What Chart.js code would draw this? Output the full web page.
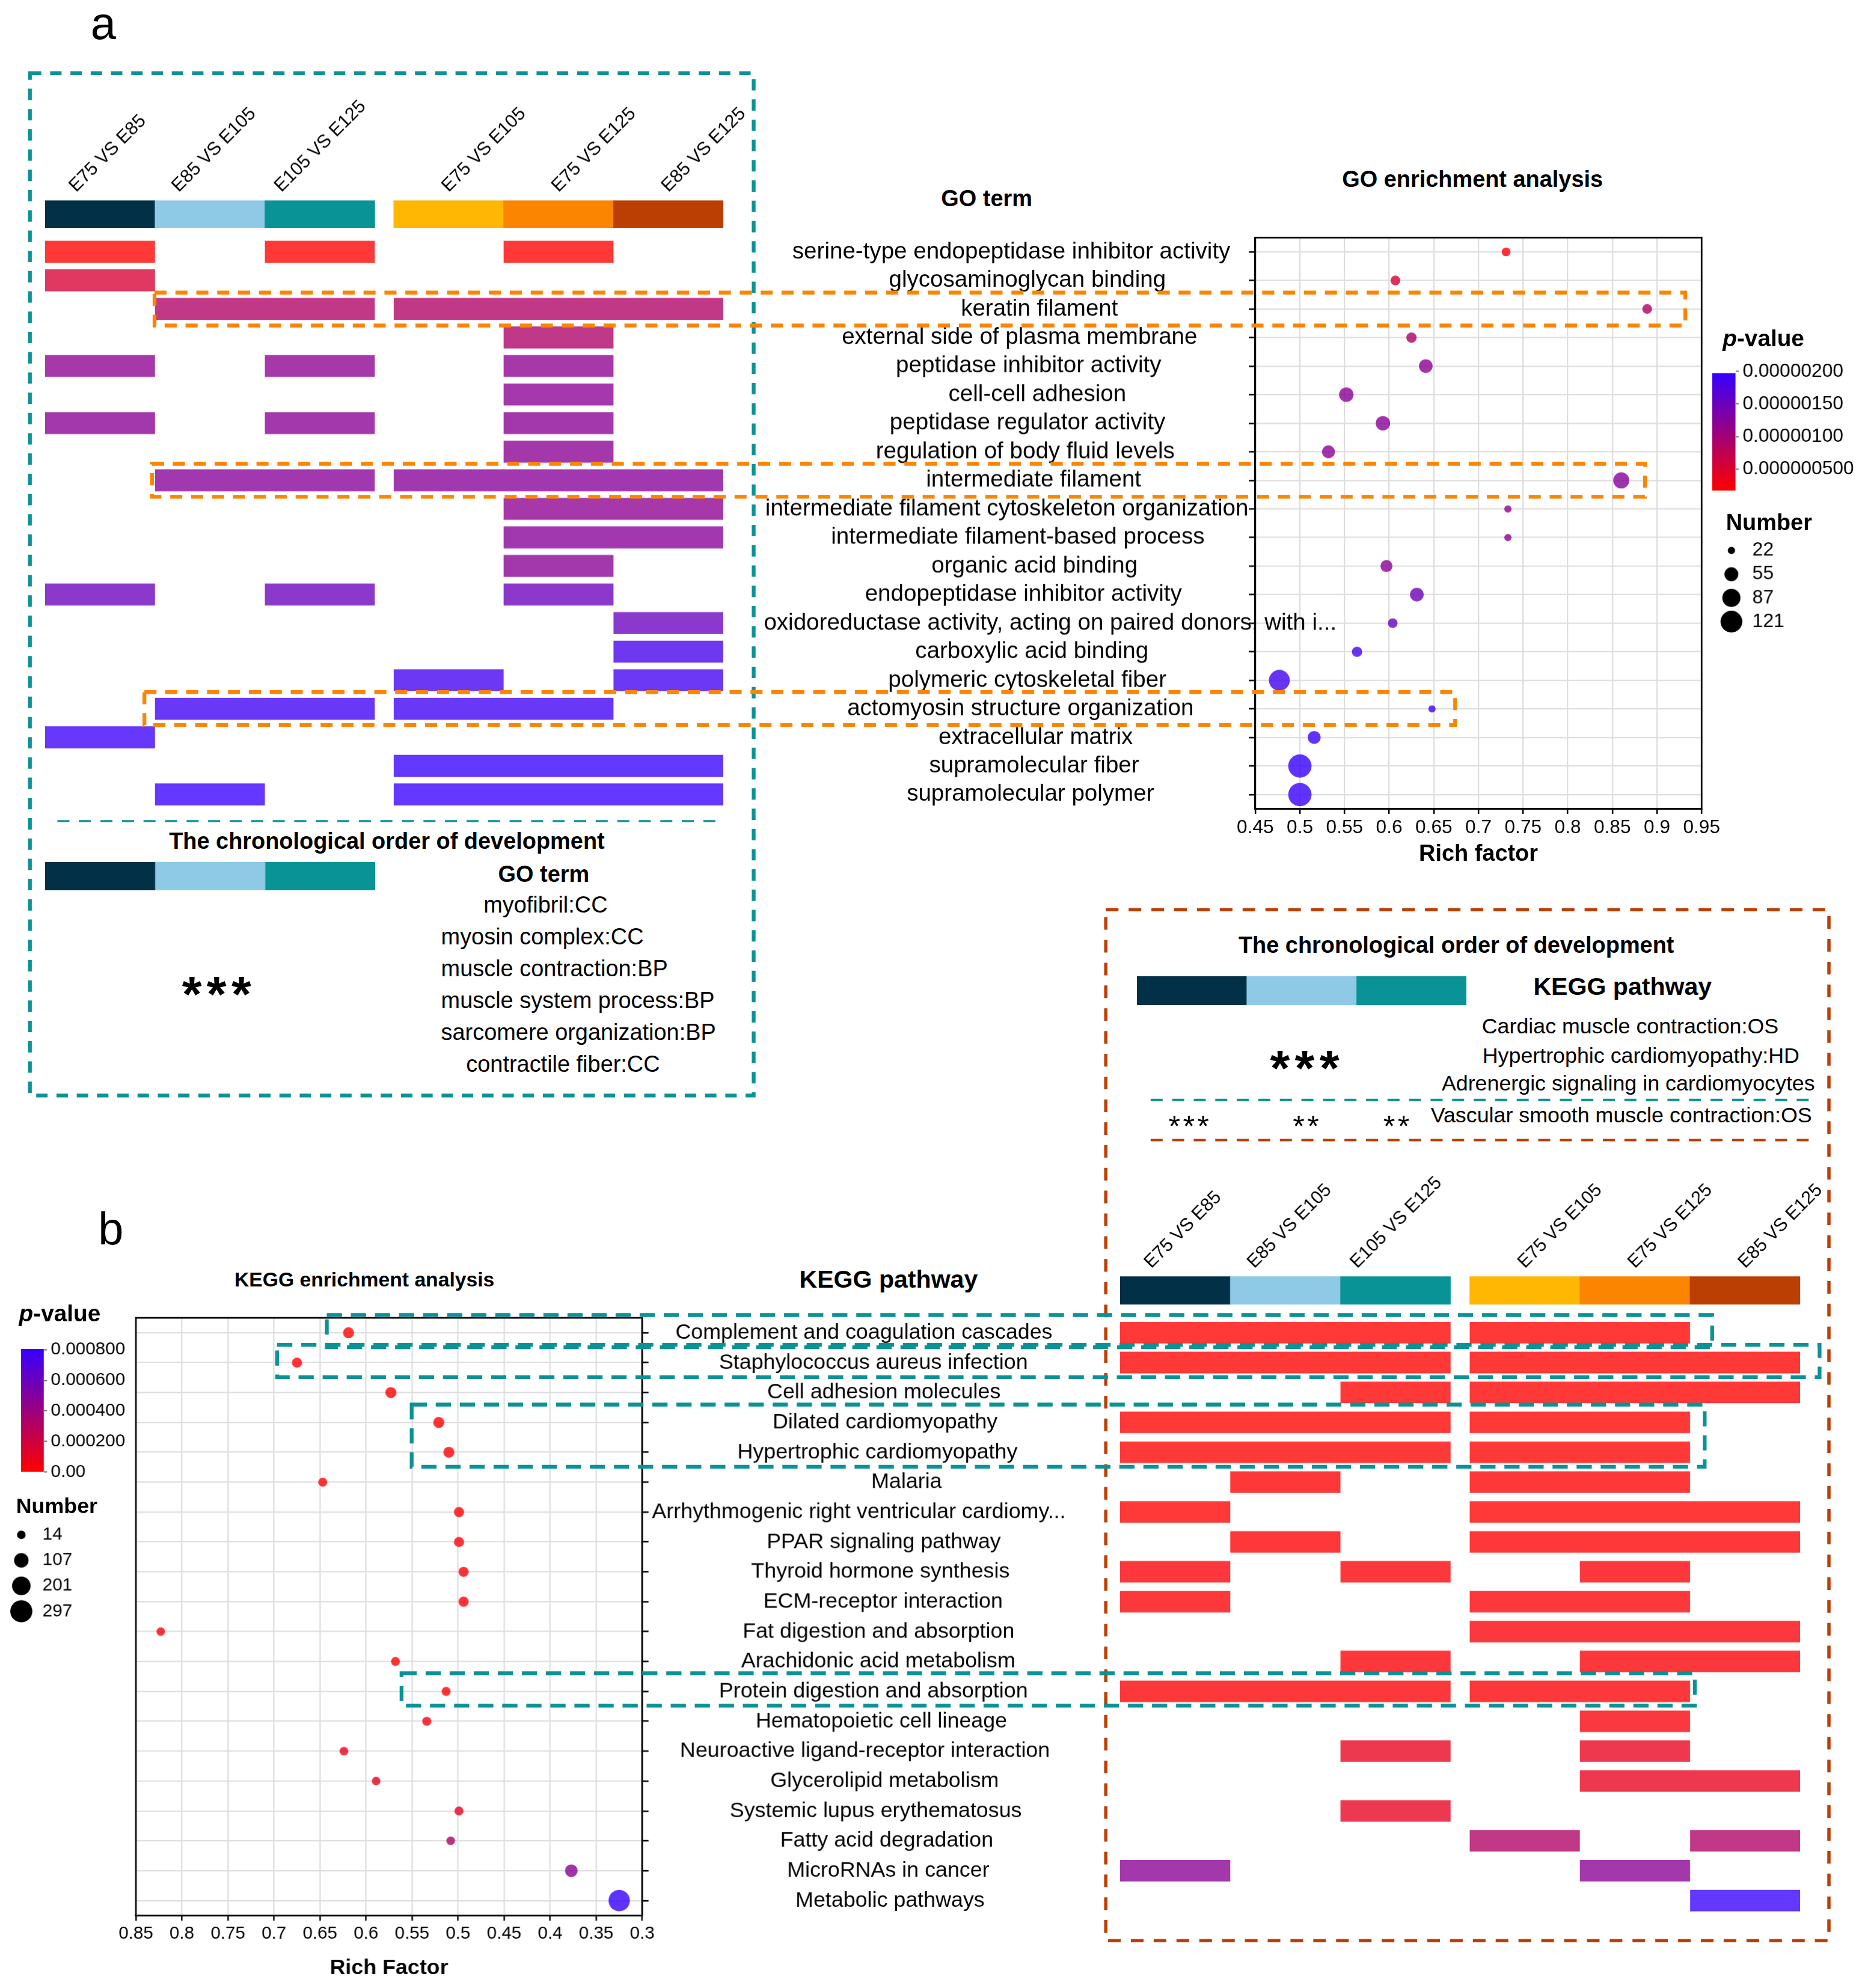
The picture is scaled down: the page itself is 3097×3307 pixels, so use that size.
<!DOCTYPE html>
<html>
<head>
<meta charset="utf-8">
<title>GO / KEGG enrichment</title>
<script src="https://cdn.jsdelivr.net/npm/chart.js@4.4.1/dist/chart.umd.min.js"></script>
<style>
  html, body { margin: 0; padding: 0; background: #fff; }
  #page { position: relative; width: 3097px; height: 3307px; overflow: hidden;
          font-family: "Liberation Sans", Arial, Helvetica, sans-serif; color: #000; }
  .box { position: absolute; }
  .t { position: absolute; white-space: nowrap; line-height: 1; }
  #overlay { position: absolute; left: 0; top: 0; }
</style>
</head>
<body>
<div id="page"></div>
<script>
// ---------- data ----------
const comparisons = ['E75 VS E85', 'E85 VS E105', 'E105 VS E125', 'E75 VS E105', 'E75 VS E125', 'E85 VS E125'];
const comparisonGroup = [0, 0, 0, 1, 1, 1];

const goTerms = [
  'serine-type endopeptidase inhibitor activity',
  'glycosaminoglycan binding',
  'keratin filament',
  'external side of plasma membrane',
  'peptidase inhibitor activity',
  'cell-cell adhesion',
  'peptidase regulator activity',
  'regulation of body fluid levels',
  'intermediate filament',
  'intermediate filament cytoskeleton organization',
  'intermediate filament-based process',
  'organic acid binding',
  'endopeptidase inhibitor activity',
  'oxidoreductase activity, acting on paired donors, with i...',
  'carboxylic acid binding',
  'polymeric cytoskeletal fiber',
  'actomyosin structure organization',
  'extracellular matrix',
  'supramolecular fiber',
  'supramolecular polymer'
];
const goRichFactor = [0.731, 0.607, 0.889, 0.625, 0.641, 0.552, 0.593, 0.532, 0.860, 0.733,
                      0.733, 0.597, 0.631, 0.604, 0.564, 0.477, 0.648, 0.516, 0.500, 0.500];
const goNumber = [28, 32, 32, 35, 54, 59, 59, 49, 71, 22, 22, 44, 54, 32, 35, 113, 22, 49, 138, 138];
const goPvalue = [1.7e-7, 5.3e-7, 8.8e-7, 9.0e-7, 1.20e-6, 1.22e-6, 1.23e-6, 1.21e-6, 1.25e-6, 1.19e-6,
                  1.24e-6, 1.23e-6, 1.49e-6, 1.52e-6, 1.84e-6, 1.86e-6, 1.90e-6, 1.94e-6, 1.97e-6, 1.96e-6];
// comparisons where each term is enriched, as runs of comparison indices [from, to]
const goHits = [
  [[0, 0], [2, 2], [4, 4]], [[0, 0]], [[1, 2], [3, 5]], [[4, 4]], [[0, 0], [2, 2], [4, 4]],
  [[4, 4]], [[0, 0], [2, 2], [4, 4]], [[4, 4]], [[1, 2], [3, 5]], [[4, 5]],
  [[4, 5]], [[4, 4]], [[0, 0], [2, 2], [4, 4]], [[5, 5]], [[5, 5]],
  [[3, 3], [5, 5]], [[1, 2], [3, 4]], [[0, 0]], [[3, 5]], [[1, 1], [3, 5]]
];
const goPTicks = [5e-7, 1e-6, 1.5e-6, 2e-6];
const goPTickLabels = ['0.000000500', '0.00000100', '0.00000150', '0.00000200'];
const goSizeBreaks = [22, 55, 87, 121];
const goMuscleTerms = ['myofibril:CC', 'myosin complex:CC', 'muscle contraction:BP',
                       'muscle system process:BP', 'sarcomere organization:BP', 'contractile fiber:CC'];

const keggTerms = [
  'Complement and coagulation cascades',
  'Staphylococcus aureus infection',
  'Cell adhesion molecules',
  'Dilated cardiomyopathy',
  'Hypertrophic cardiomyopathy',
  'Malaria',
  'Arrhythmogenic right ventricular cardiomy...',
  'PPAR signaling pathway',
  'Thyroid hormone synthesis',
  'ECM-receptor interaction',
  'Fat digestion and absorption',
  'Arachidonic acid metabolism',
  'Protein digestion and absorption',
  'Hematopoietic cell lineage',
  'Neuroactive ligand-receptor interaction',
  'Glycerolipid metabolism',
  'Systemic lupus erythematosus',
  'Fatty acid degradation',
  'MicroRNAs in cancer',
  'Metabolic pathways'
];
const keggRichFactor = [0.619, 0.675, 0.573, 0.521, 0.510, 0.647, 0.499, 0.499, 0.494, 0.494,
                        0.823, 0.568, 0.513, 0.534, 0.624, 0.589, 0.499, 0.508, 0.377, 0.325];
const keggNumber = [48, 35, 48, 48, 48, 20, 35, 35, 35, 35, 14, 20, 20, 20, 16, 16, 20, 16, 75, 280];
const keggPvalue = [1.2e-9, 3.5e-10, 2.1e-8, 4.6e-9, 8.0e-9, 3.1e-6, 5.4e-7, 2.2e-6, 1.5e-5, 9.6e-6,
                    2.4e-5, 1.8e-5, 6.7e-6, 3.2e-5, 8.9e-5, 9.3e-5, 9.8e-5, 3.2e-4, 4.75e-4, 8.05e-4];
const keggHits = [
  [[0, 2], [3, 4]], [[0, 2], [3, 5]], [[2, 2], [3, 5]], [[0, 2], [3, 4]], [[0, 2], [3, 4]],
  [[1, 1], [3, 4]], [[0, 0], [3, 5]], [[1, 1], [3, 5]], [[0, 0], [2, 2], [4, 4]], [[0, 0], [3, 4]],
  [[3, 5]], [[2, 2], [4, 5]], [[0, 2], [3, 4]], [[4, 4]], [[2, 2], [4, 4]],
  [[4, 5]], [[2, 2]], [[3, 3], [5, 5]], [[0, 0], [4, 4]], [[5, 5]]
];
const keggPTicks = [0, 2e-4, 4e-4, 6e-4, 8e-4];
const keggPTickLabels = ['0.00', '0.000200', '0.000400', '0.000600', '0.000800'];
const keggSizeBreaks = [14, 107, 201, 297];
const keggMusclePaths = ['Cardiac muscle contraction:OS', 'Hypertrophic cardiomyopathy:HD',
                         'Adrenergic signaling in cardiomyocytes'];
const keggVascular = 'Vascular smooth muscle contraction:OS';

const stageColors = ['#023047', '#8ECAE6', '#0A9396', '#FFB703', '#FB8500', '#BB3E03'];

// ---------- page helpers ----------
const S = 3097 / 1470;              // layout measured on a 1470px wide copy
const FONT = '"Liberation Sans", Arial, Helvetica, sans-serif';
const GAP = 15 / 87;                // gap between the two comparison groups
const colStart = [0, 1, 2, 3 + GAP, 4 + GAP, 5 + GAP];
const page = document.getElementById('page');

Chart.defaults.font.family = FONT;
Chart.defaults.color = '#000';
Chart.defaults.animation = false;
Chart.defaults.responsive = true;
Chart.defaults.maintainAspectRatio = false;
Chart.defaults.events = [];
Chart.defaults.layout.autoPadding = false;
Chart.defaults.plugins.legend.display = false;
Chart.defaults.plugins.tooltip.enabled = false;

function box(x, y, w, h) {
  const d = document.createElement('div');
  d.className = 'box';
  d.style.left = x * S + 'px';
  d.style.top = y * S + 'px';
  d.style.width = w * S + 'px';
  d.style.height = h * S + 'px';
  const c = document.createElement('canvas');
  d.appendChild(c);
  page.appendChild(d);
  return c;
}

function txt(s, x, y, o = {}) {
  const d = document.createElement('div');
  d.className = 't';
  if (o.html) d.innerHTML = s; else d.textContent = s;
  d.style.fontSize = (o.size || 17) * S + 'px';
  if (o.bold) d.style.fontWeight = 'bold';
  if (o.spacing) d.style.letterSpacing = o.spacing * S + 'px';
  d.style.left = x * S + 'px';
  d.style.top = y * S + 'px';
  const ax = o.align === 'center' ? -50 : o.align === 'right' ? -100 : 0;
  d.style.transform = `translate(${ax}%, ${o.baseline ? -84.65 : -54.65}%)`;
  page.appendChild(d);
}

// red -> blue ramp used by both p-value scales
function pColor(p, pmin, pmax, a) {
  const t = Math.max(0, Math.min(1, (p - pmin) / (pmax - pmin)));
  return `rgba(${Math.round(255 - 200 * t)},0,${Math.round(255 * t)},${a})`;
}

// point radius (in 1470-wide px) from gene count, area-linear between two legend breaks
function sizeScale(breaks, rMin, rMax) {
  const lo = breaks[0], hi = breaks[breaks.length - 1];
  return n => Math.sqrt(Math.max(rMin * rMin * 0.3, rMin * rMin + (n - lo) / (hi - lo) * (rMax * rMax - rMin * rMin)));
}
const goSize = sizeScale(goSizeBreaks, 2.85, 8.55);
const keggSize = sizeScale(keggSizeBreaks, 3.35, 8.65);

// fixed axis width, and no extra room asked for the end labels
const fixWidth = w => s => { s.width = w * S; s.paddingTop = 0; s.paddingBottom = 0; };

// ---------- plugins ----------
const frame = {
  id: 'frame',
  afterDraw(chart, args, o) {
    if (!o.on) return;
    const { ctx, chartArea: c } = chart;
    ctx.save();
    ctx.strokeStyle = '#000';
    ctx.lineWidth = 1.3 * S;
    ctx.strokeRect(c.left, c.top, c.right - c.left, c.bottom - c.top);
    ctx.restore();
  }
};

const rowLabels = {
  id: 'rowLabels',
  afterDraw(chart, args, o) {
    if (!o.labels) return;
    const { ctx } = chart, y = chart.scales.y;
    ctx.save();
    ctx.font = `${o.size}px ${FONT}`;
    ctx.fillStyle = '#000';
    ctx.textAlign = 'left';
    ctx.textBaseline = 'middle';
    o.labels.forEach((s, i) => {
      const w = ctx.measureText(s).width;
      ctx.fillText(s, Math.max(o.minLeft, o.anchor - o.hjust * w), y.getPixelForValue(i));
    });
    ctx.restore();
  }
};

const colLabels = {
  id: 'colLabels',
  afterDraw(chart, args, o) {
    if (!o.labels) return;
    const { ctx, chartArea } = chart, x = chart.scales.x;
    ctx.save();
    ctx.font = `${o.size}px ${FONT}`;
    ctx.fillStyle = '#000';
    ctx.textAlign = 'left';
    ctx.textBaseline = 'alphabetic';
    o.labels.forEach((s, i) => {
      const x0 = x.getPixelForValue(o.starts[i]), x1 = x.getPixelForValue(o.starts[i] + 1);
      const w = ctx.measureText(s).width;
      const sx = o.groups[i] === 0 ? x1 - o.inset - w * Math.SQRT1_2 : (x0 + x1) / 2;
      ctx.save();
      ctx.translate(sx, chartArea.top - o.lift);
      ctx.rotate(-Math.PI / 4);
      ctx.fillText(s, 0, 0);
      ctx.restore();
    });
    ctx.restore();
  }
};
Chart.register(frame, rowLabels, colLabels);

// ---------- chart builders ----------
function dotChart(el, o) {
  const pmin = Math.min(...o.p), pmax = Math.max(...o.p);
  return new Chart(el, {
    type: 'bubble',
    data: {
      datasets: [{
        data: o.terms.map((t, i) => ({ x: o.rich[i], y: t, n: o.count[i], p: o.p[i] })),
        backgroundColor: c => c.raw ? pColor(c.raw.p, pmin, pmax, 0.8) : 'red',
        radius: c => c.raw ? o.size(c.raw.n) * S : 0,
        hoverRadius: 0,
        borderWidth: 0
      }]
    },
    options: {
      layout: { padding: o.pad },
      scales: {
        x: {
          type: 'linear', min: o.min, max: o.max, reverse: !!o.reverse,
          ticks: { stepSize: 0.05, autoSkip: false, maxRotation: 0, padding: 2 * S,
                   font: { size: o.tickSize * S }, callback: v => String(+v.toFixed(2)) },
          grid: { color: '#dedede', lineWidth: 1.1 * S, tickColor: '#000', tickWidth: 1.2 * S, tickLength: 4 * S },
          border: { color: '#000', width: 1.3 * S },
          title: { display: true, text: o.title, font: { size: o.titleSize * S, weight: 'bold' },
                   padding: { top: 0, bottom: o.titlePad * S } },
          afterFit: s => { s.height = o.xHeight * S; }
        },
        y: {
          type: 'category', labels: o.terms, offset: true, position: o.yPos,
          ticks: { display: false },
          grid: { offset: false, color: '#dedede', lineWidth: 1.1 * S, tickColor: '#000', tickWidth: 1.2 * S, tickLength: 5 * S },
          border: { color: '#000', width: 1.3 * S },
          afterFit: fixWidth(o.yWidth)
        }
      },
      plugins: {
        frame: { on: true },
        rowLabels: { labels: o.terms, size: o.labelSize * S, anchor: o.anchor * S, hjust: o.hjust, minLeft: o.minLeft * S }
      }
    }
  });
}

function heatChart(el, terms, hits, p, thick) {
  const pmin = Math.min(...p), pmax = Math.max(...p);
  const bars = [];
  hits.forEach((runs, i) => runs.forEach(([a, b]) => {
    bars.push({ y: terms[i], x: [colStart[a], colStart[b] + 1], p: p[i] });
  }));
  return new Chart(el, {
    type: 'bar',
    data: {
      labels: terms,
      datasets: [{
        data: bars,
        backgroundColor: c => c.raw ? pColor(c.raw.p, pmin, pmax, 0.78) : '#f33',
        borderWidth: 0, barPercentage: thick, categoryPercentage: 1, grouped: false
      }]
    },
    options: {
      indexAxis: 'y',
      scales: {
        x: { type: 'linear', min: 0, max: colStart[5] + 1, display: false },
        y: { type: 'category', display: false }
      }
    }
  });
}

// stage colour key; with labels it becomes the column header of a heat map
function keyChart(el, n, pad, withLabels) {
  const starts = colStart.slice(0, n);
  return new Chart(el, {
    type: 'bar',
    data: {
      labels: ['k'],
      datasets: [{
        data: starts.map(s => ({ y: 'k', x: [s, s + 1] })),
        backgroundColor: stageColors.slice(0, n),
        borderWidth: 0, barPercentage: 1, categoryPercentage: 1, grouped: false
      }]
    },
    options: {
      indexAxis: 'y',
      layout: { padding: pad },
      scales: {
        x: { type: 'linear', min: 0, max: starts[n - 1] + 1, display: false },
        y: { type: 'category', display: false }
      },
      plugins: {
        colLabels: withLabels ? { labels: comparisons, groups: comparisonGroup, starts: colStart,
                                  size: 14.5 * S, inset: 6.5 * S, lift: 6 * S } : {}
      }
    }
  });
}

function colorbarChart(el, p, ticks, tickLabels, fontSize, axisW) {
  const pmin = Math.min(...p), pmax = Math.max(...p);
  return new Chart(el, {
    type: 'bar',
    data: {
      labels: ['c'],
      datasets: [{
        data: [[pmin, pmax]],
        backgroundColor: c => {
          const ch = c.chart;
          if (!ch.chartArea) return 'red';
          const ys = ch.scales.y;
          const g = ch.ctx.createLinearGradient(0, ys.getPixelForValue(pmin), 0, ys.getPixelForValue(pmax));
          g.addColorStop(0, pColor(pmin, pmin, pmax, 1));
          g.addColorStop(1, pColor(pmax, pmin, pmax, 1));
          return g;
        },
        borderWidth: 0, barPercentage: 1, categoryPercentage: 1
      }]
    },
    options: {
      layout: { padding: { top: 10 * S, bottom: 10 * S } },
      scales: {
        x: { display: false },
        y: {
          position: 'right', min: pmin, max: pmax,
          afterBuildTicks: s => { s.ticks = ticks.map(v => ({ value: v })); },
          ticks: { callback: (v, i) => tickLabels[i], font: { size: fontSize * S }, padding: 3 * S, autoSkip: false },
          grid: { drawOnChartArea: false, tickLength: 2.5 * S, tickColor: '#777', tickWidth: 1 * S },
          border: { display: false },
          afterFit: fixWidth(axisW)
        }
      }
    }
  });
}

function sizeLegend(el, breaks, size, fontSize, labelPad, axisW) {
  return new Chart(el, {
    type: 'bubble',
    data: {
      datasets: [{
        data: breaks.map(b => ({ x: 0, y: String(b), n: b })),
        backgroundColor: '#000',
        radius: c => c.raw ? size(c.raw.n) * S : 0,
        hoverRadius: 0, borderWidth: 0, clip: false
      }]
    },
    options: {
      scales: {
        x: { type: 'linear', min: -1, max: 1, display: false },
        y: {
          type: 'category', labels: breaks.map(String), offset: true, position: 'right',
          grid: { display: false, drawTicks: false }, border: { display: false },
          ticks: { crossAlign: 'near', padding: labelPad * S, autoSkip: false, font: { size: fontSize * S } },
          afterFit: fixWidth(axisW)
        }
      }
    }
  });
}

// ---------- panel a : GO ----------
const goDotTop = 180;
const goDot = dotChart(box(590, goDotTop, 770, 510), {
  terms: goTerms, rich: goRichFactor, count: goNumber, p: goPvalue, size: goSize,
  min: 0.45, max: 0.95, yPos: 'left', yWidth: 401, xHeight: 51.7,
  pad: { top: 7.7 * S, right: 16 * S, left: 0, bottom: 0 },
  tickSize: 15, title: 'Rich factor', titleSize: 18, titlePad: 5,
  labelSize: 18.3, anchor: 833 - 590, hjust: 0.6, minLeft: 603 - 590
});
const ga = goDot.chartArea;
heatChart(box(35.5, goDotTop + ga.top / S, 535.5, (ga.bottom - ga.top) / S), goTerms, goHits, goPvalue, 0.77);
keyChart(box(35.5, 70, 564.5, 110), 6, { top: 88 * S, right: 29 * S }, true);
keyChart(box(35.5, 680.7, 260.5, 22.5), 3, 0, false);
colorbarChart(box(1351.7, 285, 120, 112.5), goPvalue, goPTicks, goPTickLabels, 15, 101.7);
sizeLegend(box(1352, 425.2, 90, 74.4), goSizeBreaks, goSize, 15, 1.5, 60);

// ---------- panel b : KEGG ----------
const keggDotTop = 1030;
const keggDot = dotChart(box(0, keggDotTop, 850, 540), {
  terms: keggTerms, rich: keggRichFactor, count: keggNumber, p: keggPvalue, size: keggSize,
  min: 0.3, max: 0.85, reverse: true, yPos: 'right', yWidth: 850 - 506.7, xHeight: 58,
  pad: { top: 10.5 * S, left: 107.2 * S, right: 0, bottom: 0 },
  tickSize: 14, title: 'Rich Factor', titleSize: 17, titlePad: 6,
  labelSize: 17, anchor: 723, hjust: 0.639, minLeft: 0
});
const ka = keggDot.chartArea;
heatChart(box(884.5, keggDotTop + ka.top / S, 536.5, (ka.bottom - ka.top) / S), keggTerms, keggHits, keggPvalue, 0.72);
keyChart(box(884.5, 915, 566.5, 115), 6, { top: 92.7 * S, right: 30 * S }, true);
keyChart(box(897.5, 770.8, 260.2, 22.6), 3, 0, false);
colorbarChart(box(16.7, 1055, 100, 117), keggPvalue, keggPTicks, keggPTickLabels, 14, 82.1);
sizeLegend(box(4.7, 1202, 74, 80), keggSizeBreaks, keggSize, 14, 4.6, 50);

// ---------- text ----------
txt('a', 71.5, 30.8, { size: 36, baseline: true });
txt('b', 77.5, 982.4, { size: 36, baseline: true });

txt('GO term', 779, 158, { size: 18, bold: true, align: 'center' });
txt('GO enrichment analysis', 1162.5, 143, { size: 18, bold: true, align: 'center' });
txt('<i>p</i>-value', 1360, 268, { size: 18.4, bold: true, html: true });
txt('Number', 1362.6, 414, { size: 18, bold: true });
txt('The chronological order of development', 305.4, 665.3, { size: 18, bold: true, align: 'center' });
txt('GO term', 429.3, 691.4, { size: 18, bold: true, align: 'center' });
const goMuscleX = [381.7, 348.2, 348.2, 348.2, 348.2, 368];
goMuscleTerms.forEach((s, i) => txt(s, goMuscleX[i], 715.9 + i * 25.14, { size: 18 }));
txt('***', 173, 799, { size: 40, bold: true, align: 'center', baseline: true, spacing: 4 });

txt('KEGG enrichment analysis', 287.7, 1010.8, { size: 16, bold: true, align: 'center' });
txt('KEGG pathway', 701.5, 1010.8, { size: 19.5, bold: true, align: 'center' });
txt('<i>p</i>-value', 15, 1038, { size: 18.4, bold: true, html: true });
txt('Number', 12.7, 1190.5, { size: 17, bold: true });
txt('The chronological order of development', 1149.7, 747.5, { size: 18, bold: true, align: 'center' });
txt('KEGG pathway', 1281, 780, { size: 19.5, bold: true, align: 'center' });
const keggMuscleX = [1287, 1295.5, 1285.5];
const keggMuscleY = [811.6, 835, 856.7];
keggMusclePaths.forEach((s, i) => txt(s, keggMuscleX[i], keggMuscleY[i], { size: 17, align: 'center' }));
txt(keggVascular, 1280, 882, { size: 17, align: 'center' });
txt('***', 1032, 857, { size: 40, bold: true, align: 'center', baseline: true, spacing: 4 });
txt('***', 939.5, 898, { size: 24, align: 'center', baseline: true, spacing: 2 });
txt('**', 1032, 898, { size: 24, align: 'center', baseline: true, spacing: 2 });
txt('**', 1103.4, 898, { size: 24, align: 'center', baseline: true, spacing: 2 });

// ---------- dashed frames and highlight boxes ----------
const NS = 'http://www.w3.org/2000/svg';
const svg = document.createElementNS(NS, 'svg');
svg.id = 'overlay';
svg.setAttribute('width', 3097);
svg.setAttribute('height', 3307);
page.appendChild(svg);

function dashed(tag, attrs, color, w, dash) {
  const e = document.createElementNS(NS, tag);
  Object.entries(attrs).forEach(([k, v]) => e.setAttribute(k, v * S));
  e.setAttribute('fill', 'none');
  e.setAttribute('stroke', color);
  e.setAttribute('stroke-width', w * S);
  e.setAttribute('stroke-dasharray', dash.map(d => d * S).join(' '));
  svg.appendChild(e);
}
const rect = (x0, y0, x1, y1, c, w, d) => dashed('rect', { x: x0, y: y0, width: x1 - x0, height: y1 - y0 }, c, w, d);
const hline = (x0, x1, y, c, w, d) => dashed('line', { x1: x0, x2: x1, y1: y, y2: y }, c, w, d);

const TEAL = '#0A9396', ORANGE = '#FB8500', BROWN = '#BB3E03';
rect(23.6, 57.8, 595, 865, TEAL, 3, [9, 7]);
rect(873, 718.3, 1443.9, 1532.3, BROWN, 2.6, [10, 8]);
hline(45.3, 566.7, 648.3, TEAL, 1.5, [9.5, 7.5]);
hline(908.4, 1429.4, 868.5, TEAL, 1.9, [9.5, 7.5]);
hline(908.4, 1429.4, 900.2, BROWN, 1.9, [9.5, 7.5]);

const goRow = i => goDotTop + goDot.scales.y.getPixelForValue(i) / S;
const keggRow = i => keggDotTop + keggDot.scales.y.getPixelForValue(i) / S;
[[2, 2, 122, 1330.5], [8, 8, 120, 1298.7], [16, 16, 114, 1148.8]].forEach(([a, b, x0, x1]) =>
  rect(x0, goRow(a) - 13, x1, goRow(b) + 13, ORANGE, 3, [9.5, 7]));
[[0, 0, 258, 1351.7], [1, 1, 218.8, 1436.5], [3, 4, 325, 1345.8], [12, 12, 317, 1338]].forEach(([a, b, x0, x1]) =>
  rect(x0, keggRow(a) - 14, x1, keggRow(b) + 11.5, TEAL, 3, [12, 7]));
</script>
</body>
</html>
